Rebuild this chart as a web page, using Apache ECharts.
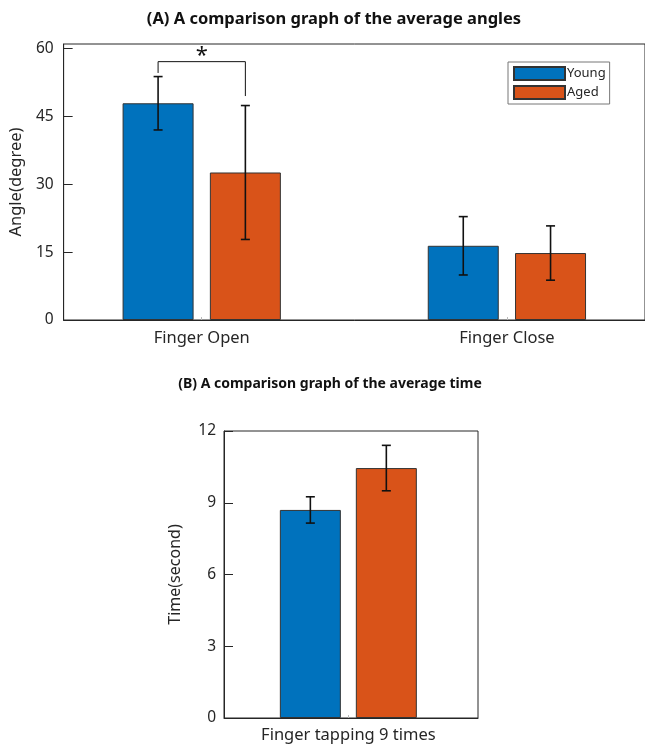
<!DOCTYPE html>
<html>
<head>
<meta charset="utf-8">
<script src="https://cdn.jsdelivr.net/npm/echarts@6/dist/echarts.min.js"></script>
<style>
html,body{margin:0;padding:0;background:#fff;}
#chart{width:645px;height:747px;}
</style>
</head>
<body>
<div id="chart"></div>
<script>
// ---- data ----
const seriesNames = ['Young', 'Aged'];
const categoriesA = ['Finger Open', 'Finger Close'];
const youngAngle = [47.9, 16.4];
const youngAngleErr = [5.9, 6.45];
const agedAngle = [32.6, 14.8];
const agedAngleErr = [14.8, 6.0];
const yTicksA = [0, 15, 30, 45, 60];
const sigLevelA = [57.1];
const sigLabel = ['*'];

const categoriesB = ['Finger tapping 9 times'];
const youngTime = [8.7];
const youngTimeErr = [0.55];
const agedTime = [10.45];
const agedTimeErr = [0.95];
const yTicksB = [0, 3, 6, 9, 12];

// ---- styling ----
const FONT = 'Noto Sans';
const TXT = '#262626';
const BLUE = '#0072BD';
const ORANGE = '#D95319';
const OFF = 0.143; // group offset (MATLAB grouped bar)

function pts(vals, off) { return vals.map((v, i) => [i + 1 + off, v]); }
function errPts(vals, errs, off) { return vals.map((v, i) => [i + 1 + off, v, errs[i]]); }

function errRender(params, api) {
  const x = api.value(0), m = api.value(1), e = api.value(2);
  const top = api.coord([x, m + e]);
  const bot = api.coord([x, m - e]);
  const cw = 4.5;
  const st = { stroke: '#111', lineWidth: 1.6 };
  return { type: 'group', children: [
    { type: 'line', shape: { x1: top[0], y1: top[1], x2: bot[0], y2: bot[1] }, style: st },
    { type: 'line', shape: { x1: top[0] - cw, y1: top[1], x2: top[0] + cw, y2: top[1] }, style: st },
    { type: 'line', shape: { x1: bot[0] - cw, y1: bot[1], x2: bot[0] + cw, y2: bot[1] }, style: st }
  ]};
}

const chart = echarts.init(document.getElementById('chart'), null, { renderer: 'canvas' });

const barStyle = (c) => ({ color: c, borderColor: '#333', borderWidth: 1 });

const option = {
  animation: false,
  backgroundColor: '#fff',
  textStyle: { fontFamily: FONT },
  title: [
    { text: '(A) A comparison graph of the average angles', left: 329, top: 6, textAlign: 'center',
      textStyle: { fontFamily: FONT, fontSize: 16.5, fontWeight: 'bold', color: '#111' } },
    { text: '(B) A comparison graph of the average time', left: 325, top: 372, textAlign: 'center',
      textStyle: { fontFamily: FONT, fontSize: 14, fontWeight: 'bold', color: '#111' } }
  ],
  legend: {
    data: seriesNames,
    orient: 'vertical',
    left: 508, top: 62,
    itemWidth: 51, itemHeight: 13, itemGap: 4,
    padding: [4, 4, 4, 5],
    backgroundColor: '#fff',
    borderColor: '#777', borderWidth: 1,
    icon: 'rect',
    textStyle: { fontFamily: FONT, fontSize: 13, color: TXT, padding: [0, 0, 0, -3] }
  },
  grid: [
    { left: 62, top: 44, right: -7, bottom: 427, show: true, borderColor: TXT, borderWidth: 1, containLabel: false },
    { left: 224, top: 431, right: 167, bottom: 29, show: true, borderColor: TXT, borderWidth: 1, containLabel: false }
  ],
  xAxis: [
    { type: 'value', gridIndex: 0, min: 0.5475, max: 2.4525,
      axisLine: { show: true, lineStyle: { color: TXT } },
      axisTick: { show: true, inside: true, length: 3, customValues: [1, 2], lineStyle: { color: '#bbb' } },
      axisLabel: { customValues: [1, 2], formatter: v => categoriesA[Math.round(v) - 1], fontFamily: FONT, fontSize: 16.5, color: TXT, margin: 10 },
      splitLine: { show: false } },
    { type: 'value', gridIndex: 1, min: 0.532, max: 1.488,
      axisLine: { show: true, lineStyle: { color: TXT } },
      axisTick: { show: true, inside: true, length: 3, customValues: [1], lineStyle: { color: '#bbb' } },
      axisLabel: { customValues: [1], formatter: v => categoriesB[Math.round(v) - 1], fontFamily: FONT, fontSize: 16.5, color: TXT, margin: 9 },
      splitLine: { show: false } }
  ],
  yAxis: [
    { type: 'value', gridIndex: 0, min: 0, max: 61,
      name: 'Angle(degree)', nameLocation: 'middle', nameGap: 37,
      nameTextStyle: { fontFamily: FONT, fontSize: 16.5, color: TXT },
      axisLine: { show: true, lineStyle: { color: TXT } },
      axisTick: { show: true, inside: true, length: 9, customValues: yTicksA, lineStyle: { color: TXT } },
      axisLabel: { customValues: yTicksA, fontFamily: FONT, fontSize: 15.5, color: TXT, margin: 10 },
      splitLine: { show: false } },
    { type: 'value', gridIndex: 1, min: 0, max: 12,
      name: 'Time(second)', nameLocation: 'middle', nameGap: 41,
      nameTextStyle: { fontFamily: FONT, fontSize: 16, color: TXT },
      axisLine: { show: true, lineStyle: { color: TXT } },
      axisTick: { show: true, inside: true, length: 9, customValues: yTicksB, lineStyle: { color: TXT } },
      axisLabel: { customValues: yTicksB, fontFamily: FONT, fontSize: 15.5, color: TXT, margin: 8 },
      splitLine: { show: false } }
  ],
  series: [
    { name: 'Young', type: 'bar', xAxisIndex: 0, yAxisIndex: 0, barWidth: 71, barGap: '-100%',
      itemStyle: barStyle(BLUE), data: pts(youngAngle, -OFF) },
    { name: 'Aged', type: 'bar', xAxisIndex: 0, yAxisIndex: 0, barWidth: 71, barGap: '-100%',
      itemStyle: barStyle(ORANGE), data: pts(agedAngle, OFF) },
    { name: 'Young', type: 'bar', xAxisIndex: 1, yAxisIndex: 1, barWidth: 61, barGap: '-100%',
      itemStyle: barStyle(BLUE), data: pts(youngTime, -OFF) },
    { name: 'Aged', type: 'bar', xAxisIndex: 1, yAxisIndex: 1, barWidth: 61, barGap: '-100%',
      itemStyle: barStyle(ORANGE), data: pts(agedTime, OFF) },
    { type: 'custom', xAxisIndex: 0, yAxisIndex: 0, renderItem: errRender, z: 5,
      data: errPts(youngAngle, youngAngleErr, -OFF).concat(errPts(agedAngle, agedAngleErr, OFF)) },
    { type: 'custom', xAxisIndex: 1, yAxisIndex: 1, renderItem: errRender, z: 5,
      data: errPts(youngTime, youngTimeErr, -OFF).concat(errPts(agedTime, agedTimeErr, OFF)) },
    { type: 'custom', xAxisIndex: 0, yAxisIndex: 0, z: 6,
      data: sigLevelA.map((lvl, i) => [i + 1 - OFF, i + 1 + OFF, lvl,
        youngAngle[i] + youngAngleErr[i] + 0.8, agedAngle[i] + agedAngleErr[i] + 2.1]),
      renderItem: function (params, api) {
        const a = api.coord([api.value(0), api.value(2)]);
        const b = api.coord([api.value(1), api.value(2)]);
        const la = api.coord([api.value(0), api.value(3)]);
        const lb = api.coord([api.value(1), api.value(4)]);
        const st = { stroke: '#111', lineWidth: 1 };
        return { type: 'group', children: [
          { type: 'polyline', shape: { points: [[la[0], la[1]], [a[0], a[1]], [b[0], b[1]], [lb[0], lb[1]]] }, style: Object.assign({ fill: null }, st) },
          { type: 'text', x: (a[0] + b[0]) / 2, y: a[1] + 5,
            style: { text: sigLabel[params.dataIndex], fontFamily: FONT, fontSize: 22, fill: '#111', align: 'center', verticalAlign: 'bottom' } }
        ]};
      } }
  ]
};
chart.setOption(option);
</script>
</body>
</html>
